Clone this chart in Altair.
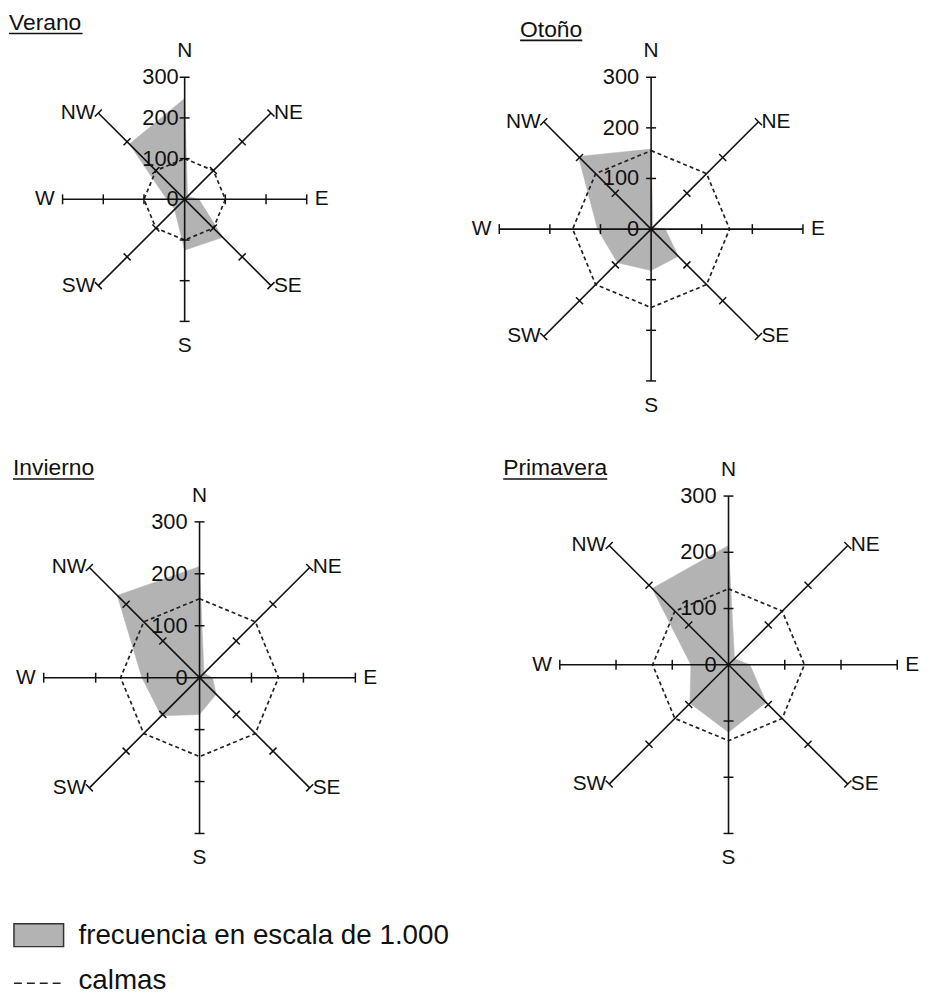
import altair as alt
import pandas as pd

# ---------------- data ----------------
DIRECTIONS = ["N", "NE", "E", "SE", "S", "SW", "W", "NW"]
BEARINGS = [0, 45, 90, 135, 180, 225, 270, 315]
SEASONS = ["Verano", "Otoño", "Invierno", "Primavera"]
VERANO_FREQ = [248, 10, 35, 132, 125, 35, 44, 192]
OTONO_FREQ = [158, 5, 28, 76, 82, 94, 106, 203]
INVIERNO_FREQ = [214, 12, 25, 45, 71, 104, 111, 224]
PRIMAVERA_FREQ = [212, 15, 38, 95, 120, 97, 67, 192]
CALMAS = [100, 155, 152, 135]
RADIAL_TICKS = [100, 200, 300]
TICK_LABELS = [0, 100, 200, 300]
AXIS_MAX = 300
LEGEND_LABELS = ["frecuencia en escala de 1.000", "calmas"]

FREQS = {"Verano": VERANO_FREQ, "Otoño": OTONO_FREQ,
         "Invierno": INVIERNO_FREQ, "Primavera": PRIMAVERA_FREQ}

# ---------------- layout / style ----------------
FONT = "Liberation Sans"
GRAY = "#b3b3b3"
INK = "#111111"
LAYOUT = {
    "Verano": dict(origin=(8, 8), size=(412, 435), center=(185, 197), radius_px=123,
                   title_left=8, title_top=8, label_dx=-6),
    "Otoño": dict(origin=(420, 8), size=(514, 435), center=(655, 227), radius_px=153,
                  title_left=523, title_top=15, label_dx=-12),
    "Invierno": dict(origin=(8, 440), size=(462, 465), center=(200, 676), radius_px=157,
                     title_left=12, title_top=454, label_dx=-12),
    "Primavera": dict(origin=(470, 440), size=(464, 465), center=(733, 663), radius_px=170,
                      title_left=506, title_top=454, label_dx=-12),
}
# approximate Arial advance widths (em) for underline length
CHAR_W = {"V": .667, "e": .556, "r": .333, "a": .556, "n": .556, "o": .556, "O": .778,
          "t": .278, "ñ": .556, "I": .278, "v": .5, "i": .222, "P": .667, "m": .833}
TITLE_SIZE = 23
DIR_SIZE = 21
NUM_SIZE = 22
LEGEND_SIZE = 28


def text_width(s, size):
    return sum(CHAR_W.get(c, .556) for c in s) * size


def panel(season, calm):
    L = LAYOUT[season]
    ox, oy = L["origin"]
    W, H = L["size"]
    cx, cy = L["center"]
    k = L["radius_px"] / AXIS_MAX
    lx, ly = cx - ox, cy - oy
    xs = alt.Scale(domain=[-lx / k, (W - lx) / k], nice=False, zero=False)
    ys = alt.Scale(domain=[-(H - ly) / k, ly / k], nice=False, zero=False)

    def X(f):
        return alt.X(f, type="quantitative", scale=xs, axis=None)

    def Y(f):
        return alt.Y(f, type="quantitative", scale=ys, axis=None)

    freq = FREQS[season]
    rows = [dict(dir=d, bearing=b, freq=f, calm=calm, order=i)
            for i, (d, b, f) in enumerate(zip(DIRECTIONS, BEARINGS, freq))]
    poly = pd.DataFrame(rows + [dict(rows[0], order=len(rows))])
    ang = "datum.bearing * PI / 180"
    base = alt.Chart(poly).transform_calculate(
        px=f"datum.freq * sin({ang})", py=f"datum.freq * cos({ang})",
        qx=f"datum.calm * sin({ang})", qy=f"datum.calm * cos({ang})")

    area = base.mark_line(fill=GRAY, stroke=GRAY, strokeWidth=0.5, interpolate="linear-closed").encode(
        x=X("px"), y=Y("py"), order=alt.Order("order:Q"))
    calm_line = base.mark_line(stroke="#222222", strokeWidth=1.7, strokeDash=[4, 3]).encode(
        x=X("qx"), y=Y("qy"), order=alt.Order("order:Q"))

    axes_df = pd.DataFrame({"dir": DIRECTIONS, "bearing": BEARINGS, "r": AXIS_MAX})
    axes_base = alt.Chart(axes_df).transform_calculate(
        zx="0", zy="0",
        ex=f"datum.r * sin({ang})", ey=f"datum.r * cos({ang})")
    axes = axes_base.mark_rule(color=INK, strokeWidth=1.6).encode(
        x=X("zx"), y=Y("zy"), x2=alt.X2("ex"), y2=alt.Y2("ey"))

    tick_df = pd.DataFrame([dict(dir=d, bearing=b, r=t)
                            for d, b in zip(DIRECTIONS, BEARINGS) for t in RADIAL_TICKS])
    ticks = alt.Chart(tick_df).transform_calculate(
        tx=f"datum.r * sin({ang})", ty=f"datum.r * cos({ang})").mark_point(
        shape="stroke", size=100, strokeWidth=1.5, color=INK, filled=False, opacity=1).encode(
        x=X("tx"), y=Y("ty"), angle=alt.Angle("bearing:Q", scale=None))

    lab_df = pd.DataFrame({"value": TICK_LABELS})
    tick_labels = alt.Chart(lab_df).transform_calculate(zx="0").mark_text(
        align="right", baseline="middle", dx=L["label_dx"], fontSize=NUM_SIZE, font=FONT, color=INK).encode(
        x=X("zx"), y=Y("value"), text="value:N")

    def dir_layer(dirs, **kw):
        return axes_base.transform_filter(
            alt.FieldOneOfPredicate(field="dir", oneOf=dirs)).mark_text(
            baseline="middle", fontSize=DIR_SIZE, font=FONT, color=INK, **kw).encode(
            x=X("ex"), y=Y("ey"), text="dir:N")

    dir_layers = [
        dir_layer(["N"], align="center", dy=-26),
        dir_layer(["S"], align="center", dy=25),
        dir_layer(["E"], align="left", dx=8),
        dir_layer(["W"], align="right", dx=-8),
        dir_layer(["NE", "SE"], align="left", dx=3),
        dir_layer(["NW", "SW"], align="right", dx=-3),
    ]

    title_df = pd.DataFrame({"season": [season]})
    tx0 = L["title_left"] - ox
    tt = L["title_top"] - oy
    title = alt.Chart(title_df).mark_text(
        align="left", baseline="top", fontSize=TITLE_SIZE, font=FONT, color=INK).encode(
        x=alt.value(tx0), y=alt.value(tt), text="season:N")
    underline = alt.Chart(title_df).mark_rule(color=INK, strokeWidth=1.6).encode(
        x=alt.value(tx0), x2=alt.value(tx0 + text_width(season, TITLE_SIZE)),
        y=alt.value(tt + TITLE_SIZE * 0.95))

    return alt.layer(area, calm_line, axes, ticks, tick_labels, *dir_layers, title, underline).properties(
        width=W, height=H)


p = {s: panel(s, c) for s, c in zip(SEASONS, CALMAS)}

leg_df = pd.DataFrame({"label": LEGEND_LABELS})
leg_box = alt.Chart(leg_df.iloc[[0]]).mark_rect(fill=GRAY, stroke="#333333", strokeWidth=1.5).encode(
    x=alt.value(5), x2=alt.value(55), y=alt.value(19), y2=alt.value(42))
leg_t1 = alt.Chart(leg_df.iloc[[0]]).mark_text(
    align="left", baseline="middle", fontSize=LEGEND_SIZE, font=FONT, color=INK).encode(
    x=alt.value(70), y=alt.value(31), text="label:N")
leg_dash = alt.Chart(leg_df.iloc[[1]]).mark_rule(color="#222222", strokeWidth=1.5, strokeDash=[8, 5]).encode(
    x=alt.value(5), x2=alt.value(55), y=alt.value(79))
leg_t2 = alt.Chart(leg_df.iloc[[1]]).mark_text(
    align="left", baseline="middle", fontSize=LEGEND_SIZE, font=FONT, color=INK).encode(
    x=alt.value(70), y=alt.value(77), text="label:N")
legend = alt.layer(leg_box, leg_t1, leg_dash, leg_t2).properties(width=926, height=90)

chart = alt.vconcat(
    alt.hconcat(p["Verano"], p["Otoño"], spacing=0),
    alt.hconcat(p["Invierno"], p["Primavera"], spacing=0),
    legend,
    spacing=0,
).properties(padding=0, background="white").configure_view(strokeWidth=0)

chart.save("out.html", embed_options={"renderer": "svg", "actions": False})
